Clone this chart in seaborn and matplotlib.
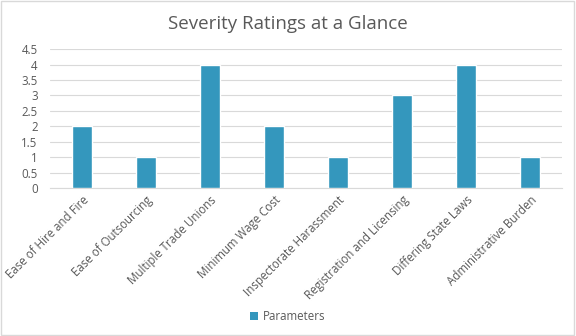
import matplotlib
matplotlib.use("Agg")
import matplotlib.pyplot as plt
import seaborn as sns
import pandas as pd
from matplotlib.patches import Rectangle, Patch

categories = ["Ease of Hire and Fire", "Ease of Outsourcing", "Multiple Trade Unions",
              "Minimum Wage Cost", "Inspectorate Harassment", "Registration and Licensing",
              "Differing State Laws", "Administrative Burden"]
values = [2, 1, 4, 2, 1, 3, 4, 1]
series_name = "Parameters"
yticks = [0, 0.5, 1, 1.5, 2, 2.5, 3, 3.5, 4, 4.5]
ytick_labels = ["0", "0.5", "1", "1.5", "2", "2.5", "3", "3.5", "4", "4.5"]

df = pd.DataFrame({"category": categories, "value": values})

sns.set_theme(style="white")
plt.rcParams["font.family"] = ["Open Sans", "DejaVu Sans"]

bar_color = "#3497BD"
text_color = "#595959"
grid_color = "#D9D9D9"

fig = plt.figure(figsize=(5.76, 3.36), dpi=100)
ax = fig.add_axes([0.087, 0.44, 0.889, 0.414])

sns.barplot(data=df, x="category", y="value", color=bar_color, width=0.31,
            saturation=1, ax=ax, zorder=3)

ax.set_ylim(0, 4.5)
ax.set_xlim(-0.5, len(categories) - 0.5)
ax.set_yticks(yticks)
ax.set_yticklabels(ytick_labels)
ax.yaxis.grid(True, color=grid_color, linewidth=0.8, zorder=0)
ax.xaxis.grid(False)
for s in ["top", "right", "left"]:
    ax.spines[s].set_visible(False)
ax.spines["bottom"].set_color(grid_color)
ax.spines["bottom"].set_linewidth(0.8)
ax.set_xlabel("")
ax.set_ylabel("")
ax.tick_params(axis="y", length=0, labelsize=8.3, labelcolor=text_color, pad=9)
ax.tick_params(axis="x", length=0, labelsize=8.3, labelcolor=text_color, pad=4)
for lbl in ax.get_xticklabels():
    lbl.set_rotation(45)
    lbl.set_ha("right")
    lbl.set_rotation_mode("anchor")

fig.suptitle("Severity Ratings at a Glance", y=0.955, fontsize=13.5, color=text_color)

handles = [Patch(facecolor=bar_color, edgecolor="none", label=series_name)]
fig.legend(handles=handles, loc="center", bbox_to_anchor=(0.5, 0.057), frameon=False,
           fontsize=8.3, labelcolor=text_color, handlelength=0.7, handleheight=0.7,
           handletextpad=0.4)

fig.patches.append(Rectangle((0.002, 0.003), 0.995, 0.994, transform=fig.transFigure,
                             fill=False, edgecolor="#D9D9D9", linewidth=1))

fig.savefig("out.png", dpi=100, facecolor="white")
